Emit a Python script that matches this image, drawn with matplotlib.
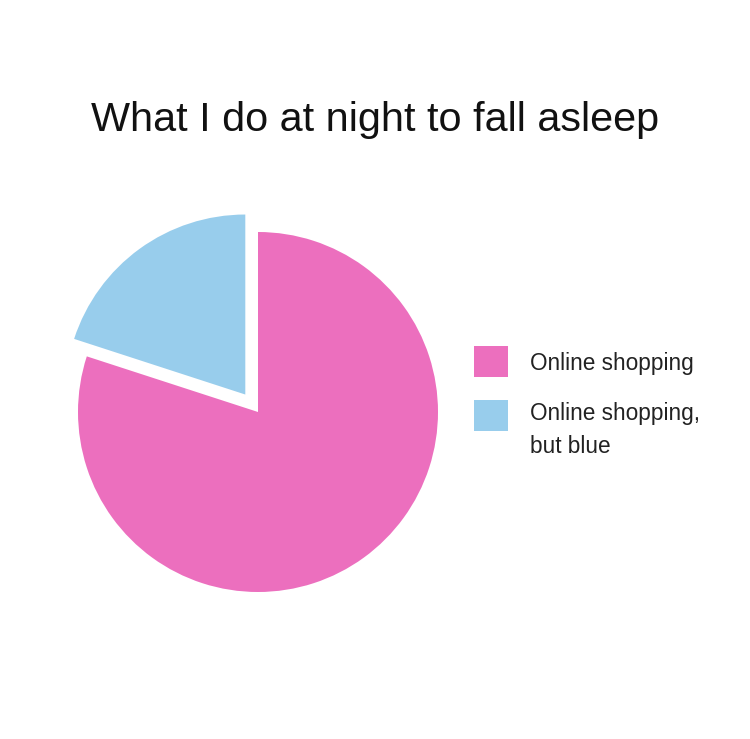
import matplotlib.pyplot as plt
from matplotlib.patches import Rectangle

plt.rcParams['font.family'] = ['Liberation Sans', 'DejaVu Sans']

title = 'What I do at night to fall asleep'
labels = ['Online shopping', 'Online shopping,\nbut blue']
shares = [80, 20]
colors = ['#ec6fbe', '#98cdec']
explode = [0, 0.12]

W, H = 750, 739
fig = plt.figure(figsize=(W / 100, H / 100), dpi=100)
fig.patch.set_facecolor('white')

# pie centre at about (258, 412) px, radius 180 px
ax = fig.add_axes([(258 - 270) / W, (H - 412 - 270) / H, 540 / W, 540 / H])
wedges, _ = ax.pie(shares, colors=colors, explode=explode, startangle=90,
                   counterclock=False, radius=1.0,
                   wedgeprops=dict(linewidth=0))
ax.set_xlim(-1.5, 1.5)
ax.set_ylim(-1.5, 1.5)
ax.set_aspect('equal')
ax.axis('off')

fig.text(375 / W, 1 - 131 / H, title, ha='center', va='baseline',
         fontsize=29.8, color='#111111')

# legend drawn by hand so the swatch lines up with the first text line
# (va='baseline' on multi-line text pins the last line)
box_tops = [346, 400]
last_baselines = [370, 453]
for w, lab, top, base in zip(wedges, labels, box_tops, last_baselines):
    fig.patches.append(Rectangle((474 / W, 1 - (top + 31) / H), 34 / W, 31 / H,
                                 transform=fig.transFigure,
                                 facecolor=w.get_facecolor(), linewidth=0))
    fig.text(530 / W, 1 - base / H, lab, ha='left', va='baseline',
             fontsize=16.3, color='#222222', linespacing=1.55)

fig.savefig('out.png', dpi=100, facecolor='white')
